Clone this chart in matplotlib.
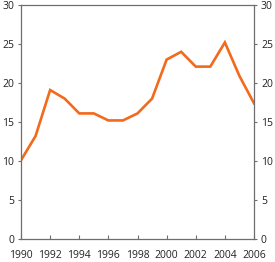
import matplotlib
matplotlib.use("Agg")
import matplotlib.pyplot as plt

years = list(range(1990, 2007))
values = [10.1, 13.2, 19.1, 18.0, 16.1, 16.1, 15.2, 15.2, 16.1, 18.0,
          23.0, 24.0, 22.1, 22.1, 25.2, 20.9, 17.4]
x_ticks = list(range(1990, 2007, 2))
y_ticks = [0, 5, 10, 15, 20, 25, 30]

ORANGE = "#f26a1b"
AXIS = "#6e6e6e"
TEXT = "#222222"

plt.rcParams["font.family"] = ["Open Sans", "DejaVu Sans"]

fig = plt.figure(figsize=(2.75, 2.62), dpi=100)
ax = fig.add_axes([21 / 275, 23 / 262, 233 / 275, 234 / 262])
ax.plot(years, values, color=ORANGE, linewidth=1.9, solid_joinstyle="miter")

ax.set_xlim(1990, 2006)
ax.set_ylim(0, 30)
ax.set_xticks(x_ticks)
ax.set_yticks(y_ticks)

for s in ax.spines.values():
    s.set_color(AXIS)
    s.set_linewidth(0.9)

ax.tick_params(axis="x", direction="in", length=3, width=0.8, color=AXIS,
               labelsize=7.5, labelcolor=TEXT, pad=8)
ax.tick_params(axis="y", direction="out", length=2, width=0.8, color=AXIS,
               labelsize=7.5, labelcolor=TEXT, pad=3,
               right=True, labelright=True)

fig.savefig("out.png", dpi=100)
